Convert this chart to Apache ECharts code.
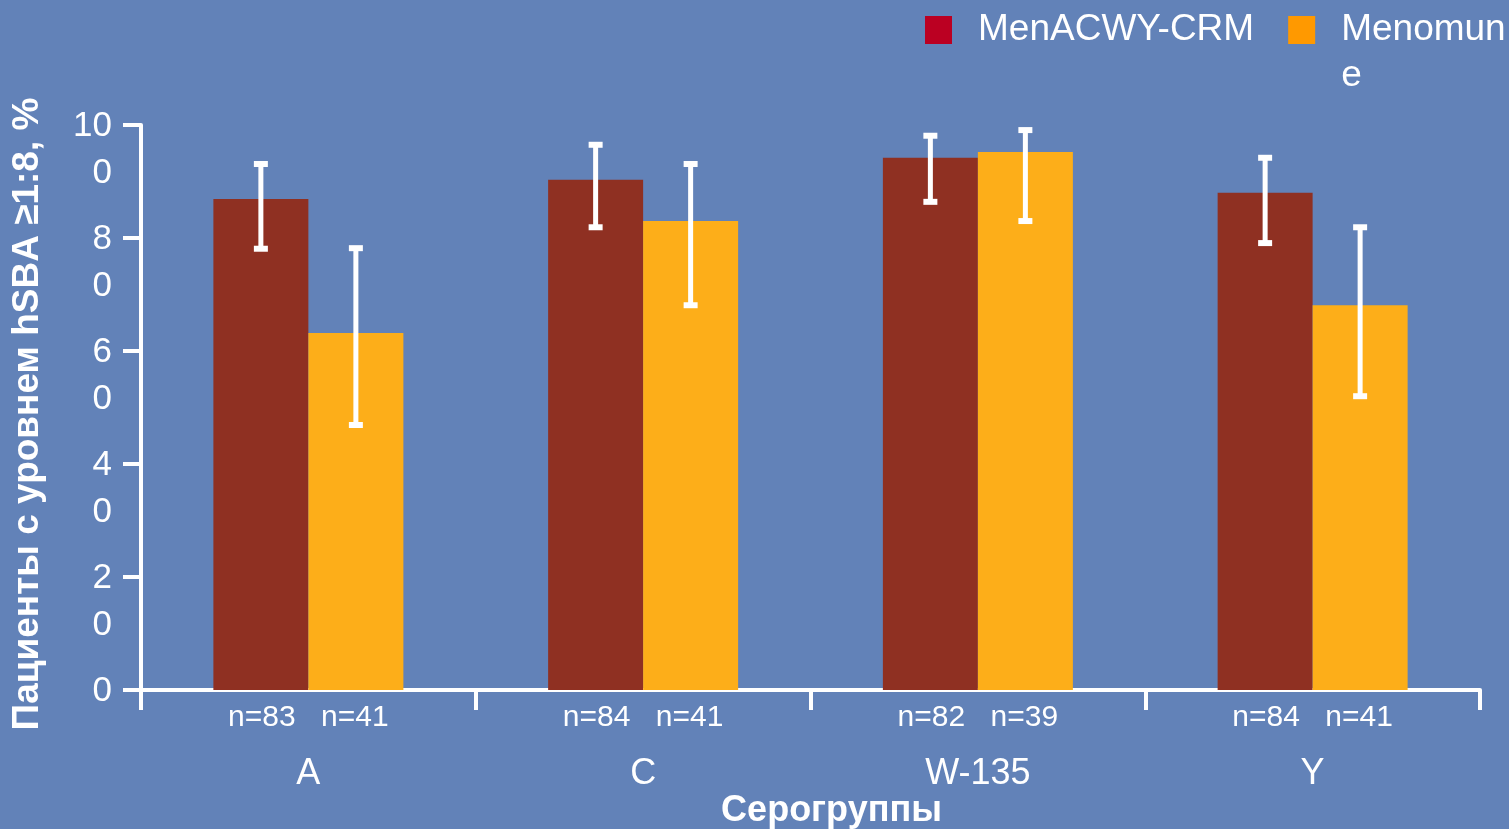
<!DOCTYPE html>
<html>
<head>
<meta charset="utf-8">
<script src="https://cdn.jsdelivr.net/npm/echarts@6/dist/echarts.min.js"></script>
<style>
html,body{margin:0;padding:0;background:#6282b8;}
#c{width:1509px;height:829px;}
</style>
</head>
<body>
<div id="c"></div>
<script>
const categories = ['A', 'C', 'W-135', 'Y'];
const seriesNames = ['MenACWY-CRM', 'Menomune'];
const menacwyValues = [86.9, 90.3, 94.2, 88.0];
const menacwyLow = [78.1, 81.9, 86.4, 79.1];
const menacwyHigh = [93.1, 96.5, 98.1, 94.2];
const menomuneValues = [63.2, 83.0, 95.2, 68.1];
const menomuneLow = [46.9, 68.1, 83.0, 52.0];
const menomuneHigh = [78.2, 93.1, 99.1, 81.9];
const menacwyN = ['n=83', 'n=84', 'n=82', 'n=84'];
const menomuneN = ['n=41', 'n=41', 'n=39', 'n=41'];
const yTickLabels = ['0', '2\n0', '4\n0', '6\n0', '8\n0', '10\n0'];

const FONT = "'Liberation Sans', Arial, sans-serif";
const BAR_W = 95;

function errorRender(offset) {
  return function (params, api) {
    const idx = api.value(0);
    const hi = api.coord([idx, api.value(2)]);
    const lo = api.coord([idx, api.value(1)]);
    const x = hi[0] + offset;
    const stemW = 5, capW = 14, capH = 6;
    return {
      type: 'group',
      children: [
        { type: 'rect', shape: { x: x - stemW / 2, y: hi[1], width: stemW, height: lo[1] - hi[1] }, style: { fill: '#ffffff' } },
        { type: 'rect', shape: { x: x - capW / 2, y: hi[1] - capH / 2, width: capW, height: capH }, style: { fill: '#ffffff' } },
        { type: 'rect', shape: { x: x - capW / 2, y: lo[1] - capH / 2, width: capW, height: capH }, style: { fill: '#ffffff' } }
      ]
    };
  };
}

const chart = echarts.init(document.getElementById('c'));
chart.setOption({
  backgroundColor: '#6282b8',
  animation: false,
  textStyle: { fontFamily: FONT, color: '#ffffff' },
  legend: {
    left: 925,
    top: -39,
    padding: 0,
    itemWidth: 27,
    itemHeight: 28,
    itemGap: 34,
    icon: 'rect',
    textStyle: { color: '#ffffff', fontSize: 37, fontFamily: FONT, lineHeight: 46, padding: [0, 0, 0, 21] },
    formatter: function (name) { return name === 'Menomune' ? ' \nMenomun\ne' : name; },
    data: [
      { name: seriesNames[0], itemStyle: { color: '#bb0022' } },
      { name: seriesNames[1], itemStyle: { color: '#ff9900' } }
    ]
  },
  grid: { left: 141, right: 29, top: 125, bottom: 139, containLabel: false, outerBoundsMode: 'none' },
  xAxis: {
    type: 'category',
    data: categories,
    boundaryGap: true,
    axisLine: { lineStyle: { color: '#ffffff', width: 4 } },
    axisTick: { show: true, interval: 0, length: 20, lineStyle: { color: '#ffffff', width: 4 } },
    axisLabel: {
      interval: 0,
      margin: 11,
      color: '#ffffff',
      formatter: function (value, index) {
        return '{n|' + menacwyN[index] + '}{n|' + menomuneN[index] + '}\n{c|' + value + '}';
      },
      rich: {
        n: { fontSize: 30, fontFamily: FONT, color: '#ffffff', width: 93, align: 'center', lineHeight: 34 },
        c: { fontSize: 36, fontFamily: FONT, color: '#ffffff', lineHeight: 78, align: 'center' }
      }
    },
    name: 'Серогруппы',
    nameLocation: 'middle',
    nameGap: 103,
    nameMoveOverlap: false,
    nameTextStyle: { color: '#ffffff', fontSize: 36, fontWeight: 'bold', fontFamily: FONT, padding: [0, 0, 0, 42] }
  },
  yAxis: {
    type: 'value',
    min: 0,
    max: 100,
    interval: 20,
    axisLine: { show: true, lineStyle: { color: '#ffffff', width: 4 } },
    axisTick: { show: true, length: 18, lineStyle: { color: '#ffffff', width: 4 } },
    splitLine: { show: false },
    axisLabel: {
      showMaxLabel: true,
      showMinLabel: true,
      hideOverlap: false,
      margin: 29,
      color: '#ffffff',
      verticalAlign: 'top',
      formatter: function (v) {
        const parts = yTickLabels[Math.round(v / 20)].split('\n');
        return parts.map(function (p, i) { return (i === 0 ? '{t|' : '{b|') + p + '}'; }).join('\n');
      },
      rich: {
        t: { fontSize: 35, fontFamily: FONT, color: '#ffffff', lineHeight: 3 },
        b: { fontSize: 35, fontFamily: FONT, color: '#ffffff', lineHeight: 90 }
      }
    },
    name: 'Пациенты с уровнем hSBA ≥1:8, %',
    nameLocation: 'middle',
    nameRotate: 90,
    nameGap: 95,
    nameMoveOverlap: false,
    nameTextStyle: { color: '#ffffff', fontSize: 37, fontWeight: 'bold', fontFamily: FONT, padding: [0, 13, 0, 0] }
  },
  series: [
    {
      name: seriesNames[0], type: 'bar', data: menacwyValues, barWidth: BAR_W, barGap: '0%',
      itemStyle: { color: '#8f3022' }
    },
    {
      name: seriesNames[1], type: 'bar', data: menomuneValues, barWidth: BAR_W, barGap: '0%',
      itemStyle: { color: '#fdae19' }
    },
    {
      name: 'errA', type: 'custom', renderItem: errorRender(-BAR_W / 2), z: 10,
      data: categories.map((c, i) => [i, menacwyLow[i], menacwyHigh[i]])
    },
    {
      name: 'errB', type: 'custom', renderItem: errorRender(BAR_W / 2), z: 10,
      data: categories.map((c, i) => [i, menomuneLow[i], menomuneHigh[i]])
    }
  ]
});
</script>
</body>
</html>
